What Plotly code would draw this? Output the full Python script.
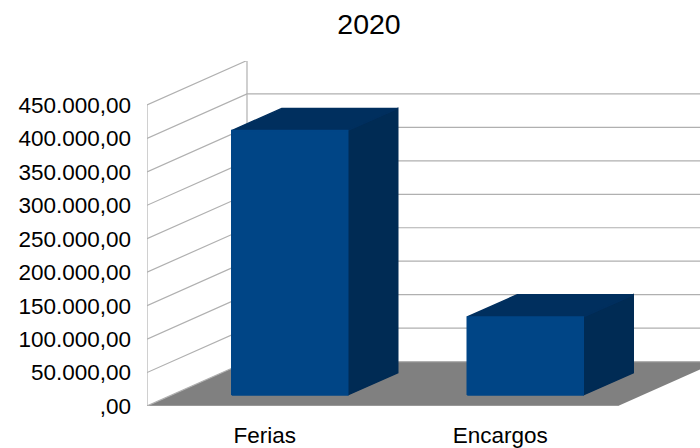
import plotly.graph_objects as go

categories = ["Ferias", "Encargos"]
values = [395000, 116500]
tick_values = [0, 50000, 100000, 150000, 200000, 250000, 300000, 350000, 400000, 450000]
tick_labels = [",00", "50.000,00", "100.000,00", "150.000,00", "200.000,00",
               "250.000,00", "300.000,00", "350.000,00", "400.000,00", "450.000,00"]
title_text = "2020"

FONT = "Liberation Sans"
DX = 100 / 235.5      # depth shift in category units
DY = 44.5 / 0.67 * 1000  # depth shift in value units
BAR_W = 116 / 235.5
D0, D1 = 0.25, 0.75
N = len(categories)
YMAX = 345.5 / 0.67 * 1000
XMAX = 553 / 235.5


def pr(x, v, d):
    return x + d * DX, v + d * DY


def poly(points, fill=None, line=None, width=1, clip=True):
    pts = [pr(*p) for p in points]
    if fill:
        pts = pts + [pts[0]]
    return go.Scatter(
        x=[p[0] for p in pts], y=[p[1] for p in pts], mode="lines",
        fill="toself" if fill else None, fillcolor=fill,
        line=dict(color=line or "rgba(0,0,0,0)", width=width),
        hoverinfo="skip", showlegend=False, cliponaxis=clip,
    )


GRID = "#b0b0b0"
fig = go.Figure()
# floor
fig.add_trace(poly([(0, 0, 0), (N, 0, 0), (N, 0, 1), (0, 0, 1)], fill="#808080", clip=True))
# walls
for v in tick_values:
    fig.add_trace(poly([(0, v, 0), (0, v, 1), (N, v, 1)], line=GRID, width=1.2, clip=False))
top = tick_values[-1]
fig.add_trace(poly([(0, 0, 0), (0, top, 0)], line=GRID, width=1.2, clip=False))
fig.add_trace(poly([(0, 0, 1), (0, top, 1)], line=GRID, width=1.2, clip=False))
fig.add_trace(poly([(0, 0, 0), (N, 0, 0)], line=GRID, width=1.2, clip=False))
# bars
for i, v in enumerate(values):
    x0 = i + (1 - BAR_W) / 2
    x1 = x0 + BAR_W
    side = "#002b54"
    roof = "#002f5e"
    front = "#004586"
    fig.add_trace(poly([(x1, 0, D0), (x1, 0, D1), (x1, v, D1), (x1, v, D0)], fill=side, line=side, width=1.5))
    fig.add_trace(poly([(x0, v, D0), (x1, v, D0), (x1, v, D1), (x0, v, D1)], fill=roof, line=roof, width=1.5))
    fig.add_trace(poly([(x0, 0, D0), (x1, 0, D0), (x1, v, D0), (x0, v, D0)], fill=front, line=front, width=1.5))

W, H = 700, 448
fig.update_layout(
    width=W, height=H, autosize=False,
    margin=dict(l=147, r=0, t=61, b=41.5),
    paper_bgcolor="white", plot_bgcolor="white",
    showlegend=False, hovermode=False,
    font=dict(family=FONT, color="black"),
    title=dict(text=title_text, x=369 / W, xanchor="center", xref="container",
               y=1 - 24 / H, yanchor="middle", yref="container",
               font=dict(family=FONT, size=28.5, color="black")),
    xaxis=dict(range=[0, XMAX], showgrid=False, zeroline=False, showline=False,
               tickmode="array", tickvals=[i + 0.5 for i in range(N)], ticktext=categories,
               ticks="", ticklabelstandoff=13, tickfont=dict(family=FONT, size=22.5, color="black")),
    yaxis=dict(range=[0, YMAX], showgrid=False, zeroline=False, showline=False,
               tickmode="array", tickvals=tick_values, ticktext=tick_labels,
               ticks="", ticklabelstandoff=15, tickfont=dict(family=FONT, size=22.5, color="black")),
)
fig.write_html(
    "out.html",
    config={"displayModeBar": False},
    post_script="document.documentElement.style.overflow='hidden';document.body.style.margin='0';document.body.style.overflow='hidden';",
)
